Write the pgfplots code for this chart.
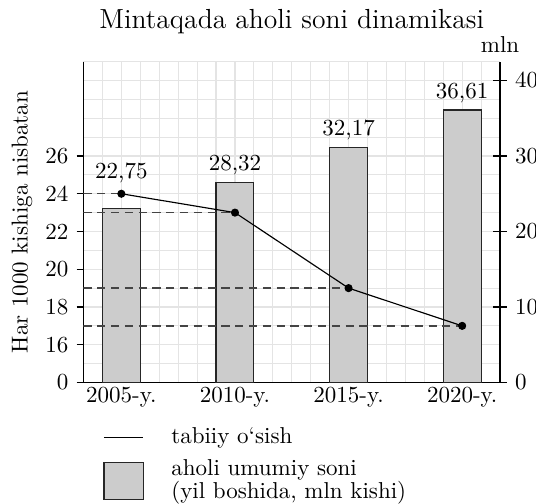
\documentclass[border=0pt]{standalone}
\usepackage{pgfplots}
\pgfplotsset{compat=1.18}
\definecolor{gridc}{HTML}{E4E4E4}
\definecolor{barfill}{HTML}{CCCCCC}
\definecolor{dashc}{HTML}{444444}
\begin{document}
\begin{tikzpicture}
\useasboundingbox (0,0) rectangle (233.04pt,218.7pt);
\pgfplotsset{
  base/.style={
    scale only axis, width=181.1pt, height=139.5pt,
    at={(36.3pt,52.4pt)}, anchor=south west,
    xmin=0, xmax=22,
  }
}
% grid and left axis
\begin{axis}[base,
  ymin=14, ymax=31,
  axis x line*=bottom, axis y line*=left,
  axis line style={-, line width=0.6pt},
  xtick={2,8,14,20},
  xticklabels={2005-y.,2010-y.,2015-y.,2020-y.},
  x tick style={draw=none},
  xticklabel style={yshift=4.5pt},
  ytick={14,16,...,26},
  yticklabels={0,16,18,20,22,24,26},
  y tick style={black, line width=0.5pt},
  tick align=outside, major tick length=3pt,
  minor xtick={0,...,22}, minor ytick={14,...,31},
  minor tick length=0pt,
  grid=minor, minor grid style={gridc, line width=0.5pt},
  title={Mintaqada aholi soni dinamikasi},
  every axis title/.style={at={(0.5,1)}, anchor=base, yshift=14.5pt, font=\large},
  ylabel={Har 1000 kishiga nisbatan},
  every axis y label/.style={at={(rel axis cs:0,0.5)}, xshift=-26.7pt, rotate=90, anchor=center},
]
\addplot[draw=none, forget plot] coordinates {(0,14)};
\end{axis}
% bars and right axis
\begin{axis}[base,
  ymin=0, ymax=42.5,
  axis x line=none, axis y line*=right,
  axis line style={-, line width=0.6pt},
  ytick={0,10,20,30,40},
  tick align=center, major tick length=6pt,
  y tick style={black, line width=0.5pt},
  clip=false,
]
\addplot[ybar, bar width=2, fill=barfill, draw=black!85, line width=0.5pt] coordinates {(2,23.0) (8,26.5) (14,31.1) (20,36.1)};
\addplot[draw=none, mark=none, nodes near coords, point meta=explicit symbolic,
  every node near coord/.append style={anchor=center, inner sep=0pt}] coordinates {(2,27.75)[22,75] (8,28.8)[28,32] (14,33.5)[32,17] (20,38.4)[36,61]};
\node[anchor=base, yshift=4.1pt] at (rel axis cs:1,1) {mln};
\end{axis}
% line and dashed guides
\begin{axis}[base,
  ymin=14, ymax=31, hide axis,
  legend style={at={(0.0464,-0.139)}, anchor=north west, draw=none, fill=none,
    inner sep=0pt, row sep=6.5pt, column sep=11.9pt,
    nodes={inner sep=0pt}, cells={anchor=west}},
]
\addplot[dashc, dash pattern=on 3.5pt off 2.5pt, line width=0.6pt, forget plot] coordinates {(0,24) (2,24)};
\addplot[dashc, dash pattern=on 3.5pt off 2.5pt, line width=0.6pt, forget plot] coordinates {(0,23) (8,23)};
\addplot[dashc, dash pattern=on 3.5pt off 2.5pt, line width=0.6pt, forget plot] coordinates {(0,19) (14,19)};
\addplot[dashc, dash pattern=on 3.5pt off 2.5pt, line width=0.6pt, forget plot] coordinates {(0,17) (20,17)};
\addplot[black, line width=0.5pt, mark=*, mark size=1.5pt,
  legend image code/.code={\draw[black, line width=0.6pt] (0pt,0pt) -- (17.1pt,0pt);}]
  coordinates {(2,24) (8,23) (14,19) (20,17)};
\addlegendentry{tabiiy o‘sish}
\addlegendimage{legend image code/.code={\draw[fill=barfill, draw=black!85, line width=0.5pt] (0pt,-8.1pt) rectangle (17.1pt,8.1pt);}}
\addlegendentry{\renewcommand\arraystretch{0.7}\raisebox{2.5pt}[\height][\depth]{\begin{tabular}{@{}l@{}}aholi umumiy soni\\(yil boshida, mln kishi)\end{tabular}}}
\end{axis}
\end{tikzpicture}
\end{document}
